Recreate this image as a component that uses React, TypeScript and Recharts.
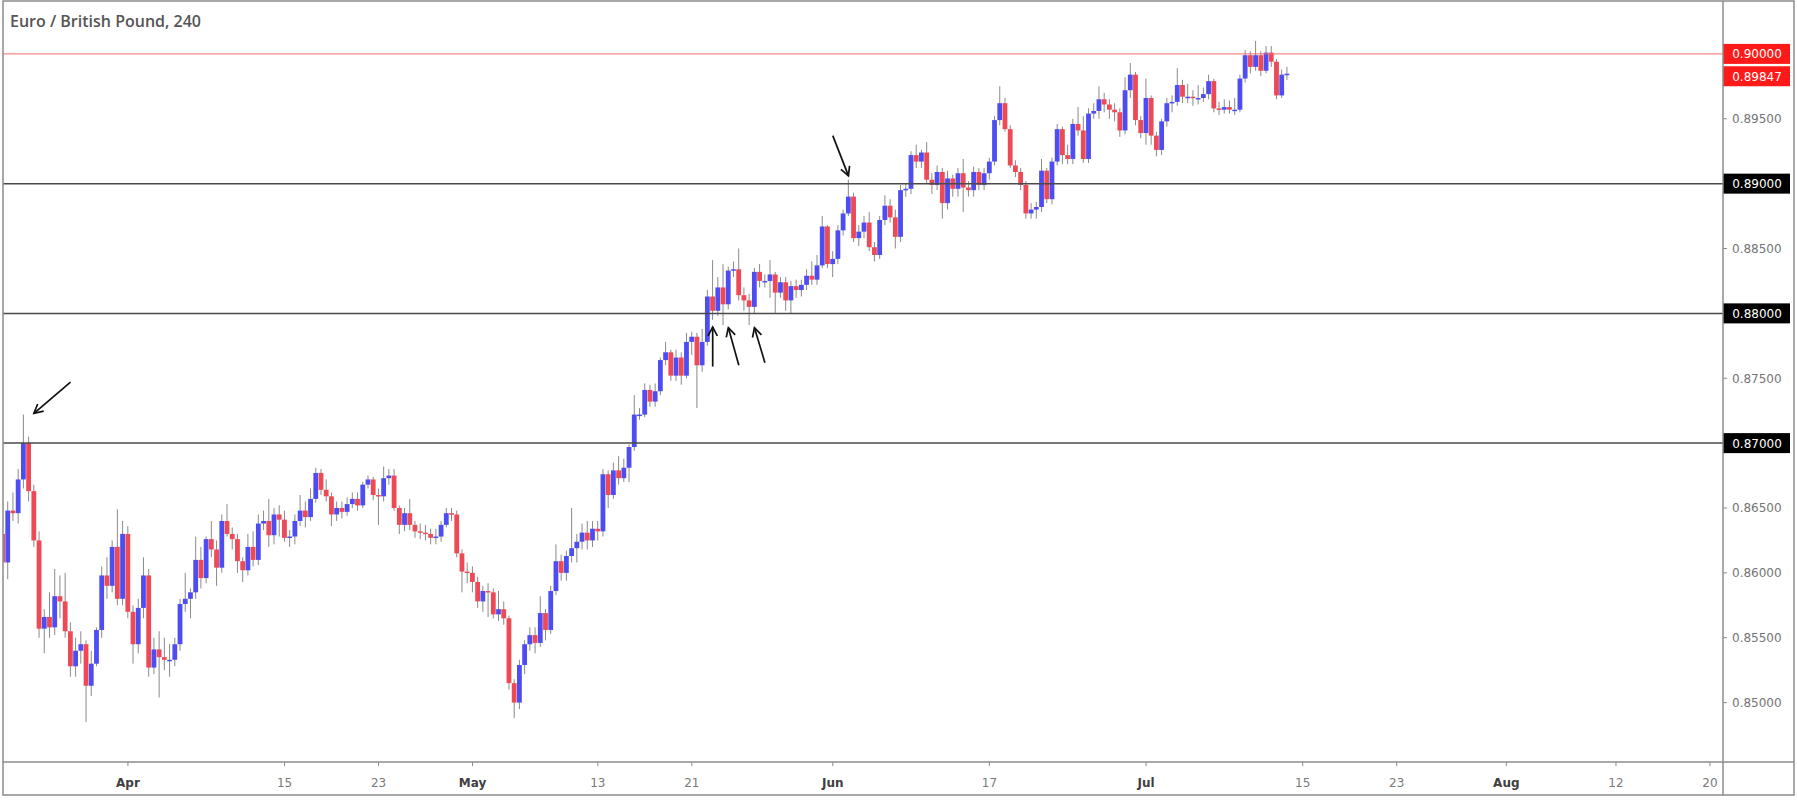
import React from 'react';
import { ComposedChart, Bar, XAxis, YAxis, ReferenceLine } from 'recharts';

const CHART_TITLE = 'Euro / British Pound, 240';

// 8-hour candles (Mar 20 .. Jul 12, 2019), 3 per trading day
const opens = [
  0.8630, 0.8608, 0.8648, 0.8646, 0.8672, 0.8700, 0.8663, 0.8625, 0.8557, 0.8566,
  0.8558, 0.8582, 0.8578, 0.8555, 0.8528, 0.8540, 0.8545, 0.8513, 0.8530, 0.8556,
  0.8598, 0.8590, 0.8620, 0.8580, 0.8630, 0.8570, 0.8545, 0.8573, 0.8598, 0.8527,
  0.8541, 0.8535, 0.8533, 0.8533, 0.8545, 0.8576, 0.8580, 0.8585, 0.8610, 0.8596,
  0.8626, 0.8618, 0.8604, 0.8640, 0.8630, 0.8626, 0.8609, 0.8602, 0.8620, 0.8610,
  0.8638, 0.8640, 0.8629, 0.8645, 0.8641, 0.8627, 0.8628, 0.8640, 0.8648, 0.8643,
  0.8657, 0.8677, 0.8664, 0.8659, 0.8645, 0.8650, 0.8647, 0.8653, 0.8657, 0.8652,
  0.8668, 0.8672, 0.8660, 0.8659, 0.8673, 0.8675, 0.8650, 0.8637, 0.8646, 0.8637,
  0.8632, 0.8631, 0.8630, 0.8627, 0.8628, 0.8637, 0.8646, 0.8645, 0.8615, 0.8601,
  0.8600, 0.8593, 0.8578, 0.8586, 0.8585, 0.8568, 0.8572, 0.8565, 0.8515, 0.8500,
  0.8529, 0.8545, 0.8552, 0.8546, 0.8569, 0.8556, 0.8586, 0.8609, 0.8600, 0.8613,
  0.8619, 0.8624, 0.8631, 0.8625, 0.8634, 0.8632, 0.8676, 0.8660, 0.8679, 0.8673,
  0.8681, 0.8697, 0.8722, 0.8722, 0.8741, 0.8732, 0.8740, 0.8764, 0.8770, 0.8752,
  0.8766, 0.8752, 0.8778, 0.8782, 0.8760, 0.8778, 0.8813, 0.8802, 0.8820, 0.8807,
  0.8833, 0.8834, 0.8814, 0.8810, 0.8805, 0.8832, 0.8825, 0.8825, 0.8830, 0.8816,
  0.8824, 0.8810, 0.8821, 0.8818, 0.8822, 0.8829, 0.8826, 0.8837, 0.8867, 0.8838,
  0.8842, 0.8864, 0.8877, 0.8890, 0.8858, 0.8863, 0.8870, 0.8851, 0.8845, 0.8872,
  0.8883, 0.8874, 0.8859, 0.8895, 0.8896, 0.8922, 0.8917, 0.8924, 0.8903, 0.8899,
  0.8909, 0.8885, 0.8904, 0.8896, 0.8908, 0.8897, 0.8895, 0.8909, 0.8899, 0.8908,
  0.8917, 0.8949, 0.8962, 0.8942, 0.8914, 0.8909, 0.8899, 0.8877, 0.8880, 0.8882,
  0.8910, 0.8888, 0.8917, 0.8942, 0.8922, 0.8919, 0.8946, 0.8941, 0.8919, 0.8954,
  0.8956, 0.8965, 0.8961, 0.8957, 0.8955, 0.8941, 0.8972, 0.8984, 0.8949, 0.8939,
  0.8966, 0.8937, 0.8926, 0.8948, 0.8962, 0.8963, 0.8976, 0.8967, 0.8967, 0.8966,
  0.8966, 0.8969, 0.8979, 0.8958, 0.8957, 0.8959, 0.8957, 0.8957, 0.8981, 0.8999,
  0.8990, 0.8999, 0.8987, 0.9001, 0.8994, 0.8968, 0.8984,
];

const highs = [
  0.8640, 0.8655, 0.8662, 0.8680, 0.8722, 0.8705, 0.8668, 0.8632, 0.8572, 0.8585,
  0.8603, 0.8598, 0.8600, 0.8562, 0.8550, 0.8555, 0.8548, 0.8540, 0.8558, 0.8605,
  0.8612, 0.8625, 0.8649, 0.8640, 0.8636, 0.8575, 0.8580, 0.8612, 0.8603, 0.8550,
  0.8555, 0.8550, 0.8545, 0.8550, 0.8580, 0.8600, 0.8588, 0.8628, 0.8620, 0.8628,
  0.8640, 0.8625, 0.8645, 0.8653, 0.8635, 0.8630, 0.8612, 0.8630, 0.8632, 0.8645,
  0.8648, 0.8657, 0.8650, 0.8652, 0.8648, 0.8633, 0.8645, 0.8660, 0.8655, 0.8665,
  0.8681, 0.8680, 0.8672, 0.8662, 0.8655, 0.8655, 0.8658, 0.8662, 0.8662, 0.8670,
  0.8675, 0.8674, 0.8665, 0.8682, 0.8680, 0.8680, 0.8652, 0.8650, 0.8657, 0.8640,
  0.8638, 0.8637, 0.8634, 0.8634, 0.8640, 0.8650, 0.8650, 0.8648, 0.8618, 0.8608,
  0.8605, 0.8597, 0.8590, 0.8592, 0.8588, 0.8586, 0.8578, 0.8567, 0.8518, 0.8533,
  0.8548, 0.8558, 0.8558, 0.8582, 0.8572, 0.8590, 0.8622, 0.8614, 0.8617, 0.8650,
  0.8630, 0.8638, 0.8640, 0.8640, 0.8640, 0.8680, 0.8679, 0.8685, 0.8690, 0.8688,
  0.8699, 0.8737, 0.8727, 0.8746, 0.8745, 0.8746, 0.8766, 0.8778, 0.8772, 0.8772,
  0.8770, 0.8785, 0.8786, 0.8785, 0.8788, 0.8818, 0.8841, 0.8828, 0.8838, 0.8836,
  0.8840, 0.8850, 0.8820, 0.8815, 0.8835, 0.8838, 0.8830, 0.8841, 0.8832, 0.8828,
  0.8828, 0.8825, 0.8826, 0.8826, 0.8834, 0.8840, 0.8845, 0.8875, 0.8868, 0.8848,
  0.8868, 0.8880, 0.8903, 0.8893, 0.8868, 0.8875, 0.8878, 0.8855, 0.8875, 0.8891,
  0.8888, 0.8880, 0.8899, 0.8900, 0.8925, 0.8930, 0.8926, 0.8932, 0.8908, 0.8914,
  0.8912, 0.8910, 0.8907, 0.8912, 0.8919, 0.8902, 0.8913, 0.8912, 0.8912, 0.8920,
  0.8952, 0.8975, 0.8966, 0.8945, 0.8918, 0.8912, 0.8902, 0.8885, 0.8886, 0.8919,
  0.8912, 0.8920, 0.8946, 0.8944, 0.8930, 0.8950, 0.8959, 0.8952, 0.8958, 0.8962,
  0.8975, 0.8970, 0.8965, 0.8962, 0.8958, 0.8982, 0.8993, 0.8986, 0.8952, 0.8981,
  0.8968, 0.8940, 0.8950, 0.8966, 0.8968, 0.8989, 0.8980, 0.8977, 0.8972, 0.8976,
  0.8974, 0.8984, 0.8981, 0.8963, 0.8965, 0.8964, 0.8966, 0.8984, 0.9003, 0.9002,
  0.9010, 0.9002, 0.9006, 0.9006, 0.8996, 0.8988, 0.8990,
];

const lows = [
  0.8598, 0.8595, 0.8640, 0.8638, 0.8665, 0.8655, 0.8620, 0.8550, 0.8538, 0.8550,
  0.8552, 0.8565, 0.8550, 0.8520, 0.8520, 0.8530, 0.8485, 0.8505, 0.8528, 0.8550,
  0.8580, 0.8585, 0.8575, 0.8575, 0.8565, 0.8530, 0.8538, 0.8565, 0.8520, 0.8522,
  0.8504, 0.8525, 0.8520, 0.8528, 0.8540, 0.8570, 0.8565, 0.8580, 0.8588, 0.8592,
  0.8612, 0.8590, 0.8600, 0.8628, 0.8618, 0.8600, 0.8593, 0.8598, 0.8605, 0.8606,
  0.8633, 0.8620, 0.8622, 0.8628, 0.8624, 0.8620, 0.8622, 0.8636, 0.8635, 0.8640,
  0.8654, 0.8660, 0.8655, 0.8636, 0.8640, 0.8642, 0.8644, 0.8650, 0.8648, 0.8650,
  0.8665, 0.8656, 0.8637, 0.8655, 0.8668, 0.8648, 0.8630, 0.8632, 0.8633, 0.8627,
  0.8626, 0.8625, 0.8622, 0.8622, 0.8624, 0.8635, 0.8640, 0.8612, 0.8585, 0.8592,
  0.8585, 0.8573, 0.8570, 0.8566, 0.8565, 0.8563, 0.8560, 0.8510, 0.8488, 0.8495,
  0.8522, 0.8540, 0.8538, 0.8543, 0.8548, 0.8553, 0.8583, 0.8594, 0.8594, 0.8608,
  0.8608, 0.8618, 0.8618, 0.8620, 0.8625, 0.8628, 0.8650, 0.8657, 0.8668, 0.8670,
  0.8670, 0.8694, 0.8718, 0.8720, 0.8728, 0.8728, 0.8737, 0.8760, 0.8748, 0.8748,
  0.8745, 0.8750, 0.8768, 0.8727, 0.8755, 0.8775, 0.8795, 0.8798, 0.8791, 0.8803,
  0.8828, 0.8810, 0.8802, 0.8791, 0.8800, 0.8820, 0.8820, 0.8812, 0.8800, 0.8812,
  0.8802, 0.8800, 0.8812, 0.8813, 0.8818, 0.8822, 0.8822, 0.8835, 0.8835, 0.8828,
  0.8838, 0.8860, 0.8875, 0.8855, 0.8852, 0.8858, 0.8848, 0.8840, 0.8842, 0.8868,
  0.8870, 0.8850, 0.8855, 0.8890, 0.8892, 0.8912, 0.8912, 0.8900, 0.8892, 0.8895,
  0.8873, 0.8880, 0.8890, 0.8890, 0.8878, 0.8890, 0.8890, 0.8895, 0.8895, 0.8903,
  0.8914, 0.8945, 0.8940, 0.8912, 0.8905, 0.8895, 0.8873, 0.8873, 0.8873, 0.8878,
  0.8885, 0.8884, 0.8914, 0.8915, 0.8915, 0.8915, 0.8937, 0.8916, 0.8916, 0.8950,
  0.8950, 0.8955, 0.8950, 0.8948, 0.8936, 0.8938, 0.8966, 0.8945, 0.8935, 0.8930,
  0.8930, 0.8921, 0.8922, 0.8944, 0.8955, 0.8960, 0.8962, 0.8962, 0.8960, 0.8961,
  0.8963, 0.8965, 0.8955, 0.8953, 0.8954, 0.8954, 0.8953, 0.8955, 0.8978, 0.8985,
  0.8987, 0.8983, 0.8985, 0.8990, 0.8965, 0.8966, 0.8980,
];

const closes = [
  0.8608, 0.8648, 0.8646, 0.8672, 0.8700, 0.8663, 0.8625, 0.8557, 0.8566, 0.8558,
  0.8582, 0.8578, 0.8555, 0.8528, 0.8540, 0.8545, 0.8513, 0.8530, 0.8556, 0.8598,
  0.8590, 0.8620, 0.8580, 0.8630, 0.8570, 0.8545, 0.8573, 0.8598, 0.8527, 0.8541,
  0.8535, 0.8533, 0.8533, 0.8545, 0.8576, 0.8580, 0.8585, 0.8610, 0.8596, 0.8626,
  0.8618, 0.8604, 0.8640, 0.8630, 0.8626, 0.8609, 0.8602, 0.8620, 0.8610, 0.8638,
  0.8640, 0.8629, 0.8645, 0.8641, 0.8627, 0.8628, 0.8640, 0.8648, 0.8643, 0.8657,
  0.8677, 0.8664, 0.8659, 0.8645, 0.8650, 0.8647, 0.8653, 0.8657, 0.8652, 0.8668,
  0.8672, 0.8660, 0.8659, 0.8673, 0.8675, 0.8650, 0.8637, 0.8646, 0.8637, 0.8632,
  0.8631, 0.8630, 0.8627, 0.8628, 0.8637, 0.8646, 0.8645, 0.8615, 0.8601, 0.8600,
  0.8593, 0.8578, 0.8586, 0.8585, 0.8568, 0.8572, 0.8565, 0.8515, 0.8500, 0.8529,
  0.8545, 0.8552, 0.8546, 0.8569, 0.8556, 0.8586, 0.8609, 0.8600, 0.8613, 0.8619,
  0.8624, 0.8631, 0.8625, 0.8634, 0.8632, 0.8676, 0.8660, 0.8679, 0.8673, 0.8681,
  0.8697, 0.8722, 0.8722, 0.8741, 0.8732, 0.8740, 0.8764, 0.8770, 0.8752, 0.8766,
  0.8752, 0.8778, 0.8782, 0.8760, 0.8778, 0.8813, 0.8802, 0.8820, 0.8807, 0.8833,
  0.8834, 0.8814, 0.8810, 0.8805, 0.8832, 0.8825, 0.8825, 0.8830, 0.8816, 0.8824,
  0.8810, 0.8821, 0.8818, 0.8822, 0.8829, 0.8826, 0.8837, 0.8867, 0.8838, 0.8842,
  0.8864, 0.8877, 0.8890, 0.8858, 0.8863, 0.8870, 0.8851, 0.8845, 0.8872, 0.8883,
  0.8874, 0.8859, 0.8895, 0.8896, 0.8922, 0.8917, 0.8924, 0.8903, 0.8899, 0.8909,
  0.8885, 0.8904, 0.8896, 0.8908, 0.8897, 0.8895, 0.8909, 0.8899, 0.8908, 0.8917,
  0.8949, 0.8962, 0.8942, 0.8914, 0.8909, 0.8899, 0.8877, 0.8880, 0.8882, 0.8910,
  0.8888, 0.8917, 0.8942, 0.8922, 0.8919, 0.8946, 0.8941, 0.8919, 0.8954, 0.8956,
  0.8965, 0.8961, 0.8957, 0.8955, 0.8941, 0.8972, 0.8984, 0.8949, 0.8939, 0.8966,
  0.8937, 0.8926, 0.8948, 0.8962, 0.8963, 0.8976, 0.8967, 0.8967, 0.8966, 0.8966,
  0.8969, 0.8979, 0.8958, 0.8957, 0.8959, 0.8957, 0.8957, 0.8981, 0.8999, 0.8990,
  0.8999, 0.8987, 0.9001, 0.8994, 0.8968, 0.8984, 0.89847,
];

// empty future slots to the right of the last candle
const FUTURE_SLOTS = 83;

const xTickSlots = [24, 54, 72, 90, 114, 132, 159, 189, 219, 249, 267, 288, 309, 327];
const xTickLabels = ['Apr', '15', '23', 'May', '13', '21', 'Jun', '17', 'Jul', '15', '23', 'Aug', '12', '20'];
const monthLabels = ['Apr', 'May', 'Jun', 'Jul', 'Aug'];

const yTickValues = [0.85, 0.855, 0.86, 0.865, 0.87, 0.875, 0.88, 0.885, 0.89, 0.895];
const blackLevels = [0.87, 0.88, 0.89];
const redLevel = 0.9;
const Y_MIN = 0.845422;
const Y_MAX = 0.903923;

// annotation arrows: tail -> head (slot, price)
const arrowTails = [
  { slot: 13, price: 0.8747 },
  { slot: 159, price: 0.8937 },
  { slot: 136, price: 0.8759 },
  { slot: 141, price: 0.876 },
  { slot: 146, price: 0.8762 },
];
const arrowHeads = [
  { slot: 6, price: 0.8723 },
  { slot: 162, price: 0.8906 },
  { slot: 136, price: 0.87895 },
  { slot: 139, price: 0.8789 },
  { slot: 144, price: 0.8789 },
];

const BLUE = '#4d4df2';
const RED = '#ee4a55';
const WICK = '#8a8a8a';
const AXIS_FONT = "'DejaVu Sans', Verdana, sans-serif";

const lastPrice = closes[closes.length - 1];

const data = Array.from({ length: closes.length + FUTURE_SLOTS }, (_, i) =>
  i < closes.length
    ? { slot: i, o: opens[i], h: highs[i], l: lows[i], c: closes[i], range: [lows[i], highs[i]] }
    : { slot: i, range: null }
);

const Candle = (props: any) => {
  const { x, y, width, height, payload } = props;
  if (!payload || payload.h == null || !isFinite(y) || !isFinite(height)) return <g />;
  const { o, h, l, c } = payload;
  const top = Math.min(y, y + height);
  const bottom = Math.max(y, y + height);
  const span = h - l;
  const py = (v: number) => (span === 0 ? top : top + ((h - v) / span) * (bottom - top));
  const cx = x + width / 2;
  const up = c >= o;
  const bTop = py(Math.max(o, c));
  let bBot = py(Math.min(o, c));
  if (bBot - bTop < 1.5) bBot = bTop + 1.5;
  const bw = 4.8;
  return (
    <g>
      <line x1={cx} x2={cx} y1={top} y2={bottom} stroke={WICK} strokeWidth={1} />
      <rect x={cx - bw / 2} y={bTop} width={bw} height={bBot - bTop} fill={up ? BLUE : RED} />
    </g>
  );
};

const XTick = (props: any) => {
  const { x, y, payload } = props;
  const i = xTickSlots.indexOf(payload.value);
  if (i < 0) return <g />;
  const lab = xTickLabels[i];
  const month = monthLabels.includes(lab);
  return (
    <g>
      <line x1={x} x2={x} y1={y} y2={y + 4} stroke="#8a8a8a" strokeWidth={1} />
      <text
        x={x}
        y={y + 25}
        textAnchor="middle"
        fontSize={12}
        fontFamily={AXIS_FONT}
        fontWeight={month ? 700 : 400}
        fill={month ? '#404040' : '#7a7a7a'}
      >
        {lab}
      </text>
    </g>
  );
};

const YTick = (props: any) => {
  const { x, y, payload } = props;
  const v = payload.value as number;
  const label = v.toFixed(5);
  const isLast = v === lastPrice;
  const isRed = v === redLevel || isLast;
  const isBlack = blackLevels.includes(v);
  if (isRed || isBlack) {
    // the last-price box is pushed down so it sits just under the 0.90000 box
    const cy = isLast ? y + 2.5 : y;
    return (
      <g>
        <rect x={x} y={cy - 10} width={67} height={20} fill={isRed ? '#ff1a1a' : '#000000'} />
        <text x={x + 34} y={cy + 4.5} textAnchor="middle" fontSize={12} fontFamily={AXIS_FONT} fill="#ffffff">
          {label}
        </text>
      </g>
    );
  }
  return (
    <g>
      <line x1={x} x2={x + 4} y1={y} y2={y} stroke="#8a8a8a" strokeWidth={1} />
      <text x={x + 9} y={y + 4.5} textAnchor="start" fontSize={12} fontFamily={AXIS_FONT} fill="#747474">
        {label}
      </text>
    </g>
  );
};

const ArrowShape = (p: any) => {
  const { x1, y1, x2, y2 } = p;
  if (![x1, y1, x2, y2].every((n) => typeof n === 'number' && isFinite(n))) return <g />;
  const ang = Math.atan2(y2 - y1, x2 - x1);
  const len = 10;
  const spread = Math.PI / 6.5;
  const ax = x2 - len * Math.cos(ang - spread);
  const ay = y2 - len * Math.sin(ang - spread);
  const bx = x2 - len * Math.cos(ang + spread);
  const by = y2 - len * Math.sin(ang + spread);
  return (
    <g>
      <line x1={x1} y1={y1} x2={x2} y2={y2} stroke="#111" strokeWidth={1.7} />
      <polyline points={`${ax},${ay} ${x2},${y2} ${bx},${by}`} fill="none" stroke="#111" strokeWidth={1.7} />
    </g>
  );
};

export default function App() {
  return (
    <div style={{ position: 'absolute', left: 0, top: 0, width: 1797, height: 800, background: '#ffffff' }}>
      <ComposedChart
        width={1797}
        height={800}
        data={data}
        margin={{ top: 3, right: 4, bottom: 0, left: 0 }}
        barCategoryGap={0}
      >
        <XAxis
          dataKey="slot"
          type="category"
          interval={0}
          tick={(p: any) => <XTick {...p} />}
          tickLine={false}
          axisLine={false}
          tickSize={0}
          tickMargin={0}
          height={38}
        />
        <YAxis
          orientation="right"
          type="number"
          domain={[Y_MIN, Y_MAX]}
          allowDataOverflow
          ticks={[...yTickValues, redLevel, lastPrice]}
          interval={0}
          tick={(p: any) => <YTick {...p} />}
          tickLine={false}
          axisLine={false}
          tickSize={0}
          tickMargin={0}
          width={70}
        />
        {blackLevels.map((v) => (
          <ReferenceLine key={v} y={v} stroke="#4a4a4a" strokeWidth={1.5} />
        ))}
        <ReferenceLine y={redLevel} stroke="#f46a6a" strokeWidth={1} />
        <Bar dataKey="range" isAnimationActive={false} shape={(p: any) => <Candle {...p} />} />
        {arrowTails.map((t, i) => (
          <ReferenceLine
            key={'arrow' + i}
            segment={[
              { x: t.slot, y: t.price },
              { x: arrowHeads[i].slot, y: arrowHeads[i].price },
            ]}
            ifOverflow="visible"
            shape={(p: any) => <ArrowShape {...p} />}
          />
        ))}
      </ComposedChart>
      <svg
        width={1797}
        height={800}
        style={{ position: 'absolute', left: 0, top: 0, pointerEvents: 'none' }}
      >
        <rect x={0} y={0} width={3} height={800} fill="#ffffff" />
        <rect x={3} y={1} width={1791} height={794} fill="none" stroke="#8c8c8c" strokeWidth={1.5} />
        <line x1={1723} x2={1723} y1={1} y2={795} stroke="#8c8c8c" strokeWidth={1.5} />
        <line x1={3} x2={1794} y1={762} y2={762} stroke="#8c8c8c" strokeWidth={1.5} />
        <text x={10} y={27} fontSize={16} fontWeight={600} fontFamily="'Open Sans', sans-serif" fill="#555555">
          {CHART_TITLE}
        </text>
      </svg>
    </div>
  );
}
